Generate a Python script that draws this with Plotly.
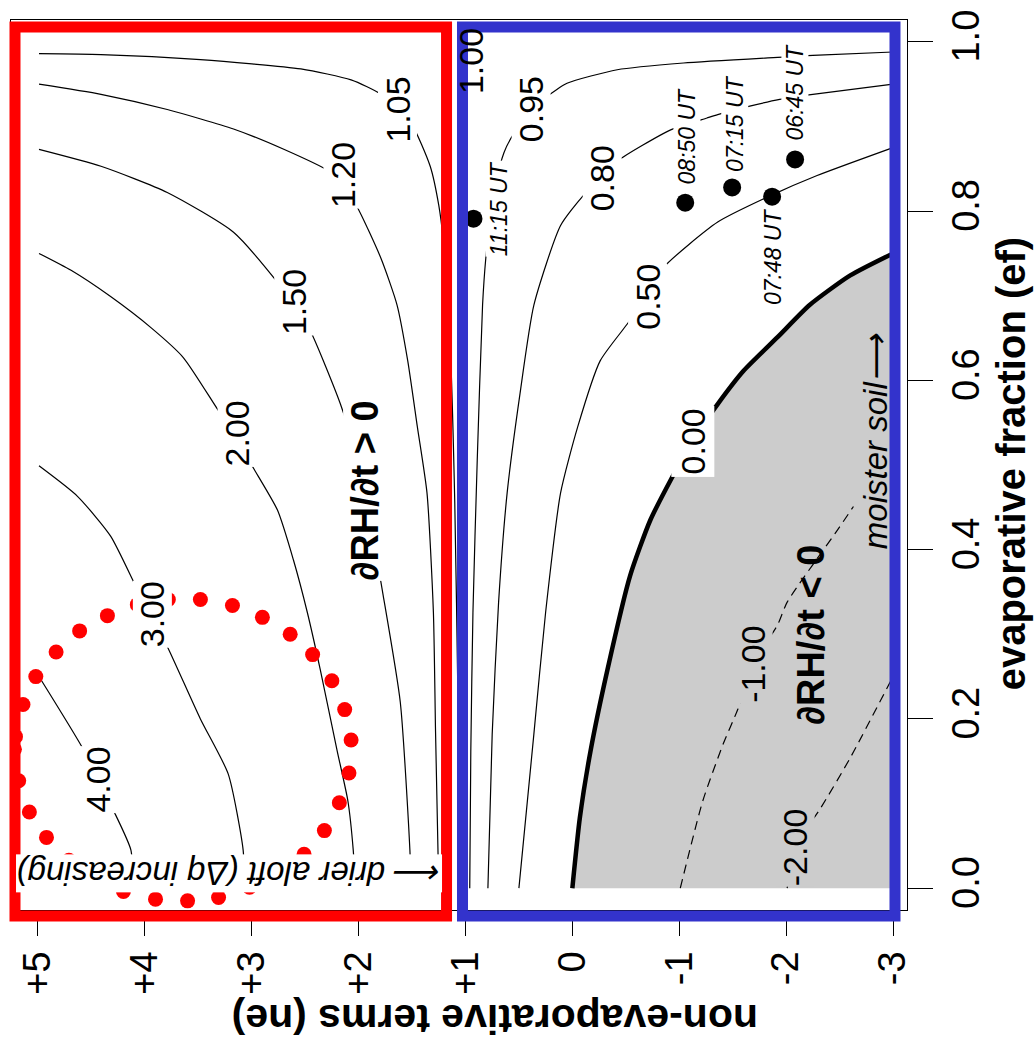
import plotly.graph_objects as go

# ---- contour paths of dRH/dt, traced as (ne, ef) pairs ----
ne_c105 = [4.99, 4.41, 3.48, 2.54, 2.07, 1.79, 1.51, 1.33, 1.25, 1.21, 1.14, 1.10, 1.07, 1.05]
ef_c105 = [0.986, 0.985, 0.979, 0.968, 0.955, 0.938, 0.904, 0.853, 0.807, 0.768, 0.631, 0.455, 0.220, 0.0]

ne_c120 = [4.99, 4.41, 3.79, 3.17, 2.70, 2.29, 2.15, 2.01, 1.79, 1.64, 1.54, 1.45, 1.36, 1.30, 1.28, 1.25]
ef_c120 = [0.950, 0.938, 0.920, 0.897, 0.873, 0.848, 0.830, 0.804, 0.744, 0.689, 0.623, 0.545, 0.467, 0.326, 0.185, 0.0]

ne_c150 = [4.99, 4.41, 3.79, 3.17, 2.76, 2.61, 2.45, 2.17, 2.03, 1.89, 1.77, 1.61, 1.52, 1.51]
ef_c150 = [0.873, 0.853, 0.822, 0.775, 0.716, 0.690, 0.658, 0.572, 0.514, 0.431, 0.346, 0.220, 0.045, 0.0]

ne_c200 = [4.99, 4.69, 4.32, 3.94, 3.64, 3.31, 3.15, 3.01, 2.76, 2.61, 2.48, 2.36, 2.20, 2.10, 2.05, 2.03]
ef_c200 = [0.750, 0.730, 0.699, 0.662, 0.627, 0.564, 0.535, 0.502, 0.447, 0.388, 0.326, 0.259, 0.162, 0.103, 0.045, 0.0]

ne_c300 = [4.99, 4.63, 4.32, 4.07, 3.93, 3.78, 3.48, 3.22, 3.08, 3.07]
ef_c300 = [0.499, 0.463, 0.416, 0.353, 0.320, 0.283, 0.200, 0.135, 0.045, 0.0]

ne_c400 = [4.97, 4.58, 4.44, 4.29, 4.13, 4.11]
ef_c400 = [0.246, 0.165, 0.128, 0.091, 0.045, 0.0]

ne_c100 = [1.0, 1.0]
ef_c100 = [0.0, 0.99]

ne_c095 = [-3.0, -2.25, -1.97, -1.04, -0.42, 0.05, 0.23, 0.39, 0.55, 0.64, 0.72, 0.77, 0.81, 0.84, 0.89, 0.93, 0.95, 0.96]
ef_c095 = [0.988, 0.984, 0.982, 0.975, 0.967, 0.951, 0.936, 0.915, 0.891, 0.869, 0.830, 0.789, 0.744, 0.689, 0.505, 0.326, 0.162, 0.0]

ne_c080 = [-3.0, -2.25, -1.94, -1.66, -1.36, -1.26, -0.92, -0.42, -0.28, -0.10, 0.11, 0.36, 0.49, 0.61, 0.69, 0.75, 0.79]
ef_c080 = [0.950, 0.938, 0.932, 0.924, 0.914, 0.910, 0.896, 0.859, 0.840, 0.818, 0.783, 0.689, 0.584, 0.467, 0.338, 0.182, 0.0]

ne_c050 = [-3.0, -2.29, -1.85, -1.36, -0.85, -0.70, -0.51, -0.26, -0.05, 0.11, 0.25, 0.36, 0.50]
ef_c050 = [0.875, 0.842, 0.818, 0.787, 0.733, 0.700, 0.666, 0.623, 0.545, 0.467, 0.326, 0.182, 0.0]

ne_c000 = [0.0, -0.07, -0.17, -0.33, -0.54, -0.73, -0.94, -1.13, -1.36, -1.60, -1.92, -2.22, -2.60, -3.0]
ef_c000 = [0.0, 0.083, 0.162, 0.259, 0.369, 0.435, 0.487, 0.530, 0.572, 0.611, 0.651, 0.689, 0.724, 0.750]

ne_cm1 = [-1.01, -1.22, -1.41, -1.55, -1.69, -1.92, -2.01, -2.48, -2.63]
ef_cm1 = [0.0, 0.103, 0.170, 0.212, 0.265, 0.311, 0.338, 0.423, 0.451]

ne_cm2 = [-2.01, -2.08, -2.32, -2.60, -3.0]
ef_cm2 = [0.0, 0.048, 0.094, 0.154, 0.250]

# contour labels
lab_text = ["1.05", "1.20", "1.50", "2.00", "3.00", "4.00", "1.00",
            "0.95", "0.80", "0.50", "0.00", "-1.00", "-2.00"]
lab_ne = [1.64, 2.15, 2.61, 3.14, 3.93, 4.44, 0.95,
          0.39, -0.28, -0.70, -1.13, -1.69, -2.08]
lab_ef = [0.920, 0.842, 0.693, 0.537, 0.324, 0.128, 0.977,
          0.920, 0.839, 0.699, 0.528, 0.265, 0.048]

# observed soundings
obs_time = ["11:15 UT", "08:50 UT", "07:15 UT", "07:48 UT", "06:45 UT"]
obs_ne = [0.925, -1.056, -1.495, -1.869, -2.084]
obs_ef = [0.791, 0.810, 0.828, 0.817, 0.861]
obs_lab_ne = [0.69, -1.07, -1.52, -1.88, -2.08]
obs_lab_ef = [0.803, 0.889, 0.904, 0.746, 0.941]

# dotted ring marking the dry-air-aloft regime
ring_ne = [4.35, 4.61, 4.83, 5.02, 5.14, 5.21, 5.22, 5.18, 5.08, 4.92, 4.71, 4.46,
           4.20, 3.90, 3.60, 3.31, 3.02, 2.76, 2.51, 2.32, 2.18, 2.09, 2.07, 2.13,
           2.25, 2.43, 2.64, 2.90, 3.18, 3.48, 3.78, 4.07]
ring_ef = [0.322, 0.304, 0.279, 0.250, 0.217, 0.179, 0.164, 0.127, 0.090, 0.060, 0.033, 0.012,
           -0.004, -0.013, -0.015, -0.011, 0.001, 0.016, 0.040, 0.068, 0.101, 0.136, 0.175, 0.211,
           0.245, 0.276, 0.300, 0.320, 0.334, 0.341, 0.341, 0.335]

ne_ticks = [5, 4, 3, 2, 1, 0, -1, -2, -3]
ne_ticktext = ["+5", "+4", "+3", "+2", "+1", "0", "-1", "-2", "-3"]
ef_ticks = [0.0, 0.2, 0.4, 0.6, 0.8, 1.0]
ef_ticktext = ["0.0", "0.2", "0.4", "0.6", "0.8", "1.0"]

FONT = "Liberation Sans, Arial, sans-serif"
GRAY = "#cccccc"

fig = go.Figure()

# negative-tendency region
fig.add_trace(go.Scatter(
    x=ne_c000 + [-3.0, 0.0], y=ef_c000 + [0.0, 0.0],
    fill="toself", fillcolor=GRAY, mode="lines", line=dict(width=0),
    hoverinfo="skip", showlegend=False))

thin = [
    (ne_c105, ef_c105), (ne_c120, ef_c120), (ne_c150, ef_c150), (ne_c200, ef_c200),
    (ne_c300, ef_c300), (ne_c400, ef_c400), (ne_c100, ef_c100),
    (ne_c095, ef_c095), (ne_c080, ef_c080), (ne_c050, ef_c050),
]
for xs, ys in thin:
    fig.add_trace(go.Scatter(x=xs, y=ys, mode="lines",
                             line=dict(color="black", width=1.2, shape="spline", smoothing=0.6),
                             hoverinfo="skip", showlegend=False))

fig.add_trace(go.Scatter(x=ne_c000, y=ef_c000, mode="lines",
                         line=dict(color="black", width=4.5, shape="spline", smoothing=0.6),
                         hoverinfo="skip", showlegend=False))
for xs, ys in [(ne_cm1, ef_cm1), (ne_cm2, ef_cm2)]:
    fig.add_trace(go.Scatter(x=xs, y=ys, mode="lines",
                             line=dict(color="black", width=1.2, dash="9px,6px",
                                       shape="spline", smoothing=0.6),
                             hoverinfo="skip", showlegend=False))

fig.add_trace(go.Scatter(x=obs_ne, y=obs_ef, mode="markers",
                         marker=dict(color="black", size=18),
                         hoverinfo="skip", showlegend=False))
fig.add_trace(go.Scatter(x=ring_ne, y=ring_ef, mode="markers",
                         marker=dict(color="red", size=15),
                         hoverinfo="skip", showlegend=False))

# contour labels
for t, x, y in zip(lab_text, lab_ne, lab_ef):
    if t == "1.00":
        bg = "rgba(0,0,0,0)"
    elif t in ("-1.00", "-2.00"):
        bg = GRAY
    else:
        bg = "white"
    fig.add_annotation(x=x, y=y, text=t, textangle=-90, showarrow=False,
                       xanchor="center", yanchor="middle",
                       font=dict(family=FONT, size=34, color="black"),
                       bgcolor=bg, borderpad=2 if t == "0.00" else 0)

for t, x, y in zip(obs_time, obs_lab_ne, obs_lab_ef):
    fig.add_annotation(x=x, y=y, text="<i>%s</i>" % t, textangle=-90, showarrow=False,
                       xanchor="center", yanchor="middle",
                       font=dict(family=FONT, size=23, color="black"),
                       bgcolor="white", borderpad=0)

fig.add_annotation(x=1.94, y=0.470, text="<b>\u2202RH/\u2202t &gt; 0</b>", textangle=-90,
                   showarrow=False, xanchor="center", yanchor="middle",
                   font=dict(family=FONT, size=38, color="black"),
                   bgcolor="white", borderpad=0)
fig.add_annotation(x=-2.23, y=0.299, text="<b>\u2202RH/\u2202t &lt; 0</b>", textangle=-90,
                   showarrow=False, xanchor="center", yanchor="middle",
                   font=dict(family=FONT, size=38, color="black"))
fig.add_annotation(x=-2.83, y=0.528, text="<i>moister soil\u27f6</i>", textangle=-90,
                   showarrow=False, xanchor="center", yanchor="middle",
                   font=dict(family=FONT, size=33, color="black"))
fig.add_annotation(x=3.21, y=0.018, text="<i>\u27f5 drier aloft (\u0394q increasing)</i>",
                   textangle=180, showarrow=False, xanchor="center", yanchor="middle",
                   font=dict(family=FONT, size=33, color="black"),
                   bgcolor="white", borderpad=0)

# axis titles
fig.add_annotation(xref="paper", yref="paper", x=1.1170, y=0.5017,
                   xanchor="center", yanchor="middle",
                   text="<b>evaporative fraction (ef)</b>", textangle=-90, showarrow=False,
                   font=dict(family=FONT, size=40, color="black"))
fig.add_annotation(xref="paper", yref="paper", x=0.5396, y=-0.1226,
                   xanchor="center", yanchor="middle",
                   text="<b>non-evaporative terms (ne)</b>", textangle=180, showarrow=False,
                   font=dict(family=FONT, size=41, color="black"))

# highlight boxes
fig.add_shape(type="rect", xref="paper", yref="paper", x0=0.00446, x1=0.4861,
              y0=-0.00669, y1=0.9922, line=dict(color="#ff0000", width=11), layer="above")
fig.add_shape(type="rect", xref="paper", yref="paper", x0=0.5039, x1=0.9866,
              y0=-0.00669, y1=0.9922, line=dict(color="#3333cc", width=11), layer="above")

axis_common = dict(showgrid=False, zeroline=False, showline=True, mirror=True,
                   linecolor="black", linewidth=1.3, ticks="outside", ticklen=25,
                   tickwidth=1.3, tickcolor="black", tickangle=-90,
                   tickfont=dict(family=FONT, size=38, color="black"))

fig.update_layout(
    width=1034, height=1059,
    margin=dict(l=10, r=127, t=13, b=149),
    paper_bgcolor="white", plot_bgcolor="white",
    xaxis=dict(range=[5.252, -3.131], tickvals=ne_ticks, ticktext=ne_ticktext, **axis_common),
    yaxis=dict(range=[-0.0258, 1.0258], side="right", tickvals=ef_ticks,
               ticktext=ef_ticktext, **axis_common),
    showlegend=False,
)

fig.write_html("out.html")
